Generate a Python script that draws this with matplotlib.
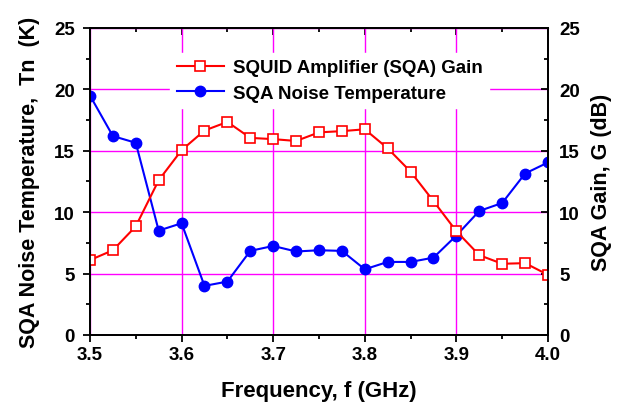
import matplotlib
matplotlib.use("Agg")
import matplotlib.pyplot as plt
from matplotlib.ticker import MultipleLocator

plt.rcParams["font.family"] = ["Liberation Sans", "DejaVu Sans"]
plt.rcParams["font.weight"] = "bold"

freq = [3.5, 3.525, 3.55, 3.575, 3.6, 3.625, 3.65, 3.675, 3.7, 3.725, 3.75,
        3.775, 3.8, 3.825, 3.85, 3.875, 3.9, 3.925, 3.95, 3.975, 4.0]
gain = [6.1, 6.9, 8.85, 12.6, 15.05, 16.65, 17.35, 16.05, 15.95, 15.8, 16.5,
        16.6, 16.75, 15.2, 13.3, 10.9, 8.45, 6.5, 5.8, 5.85, 4.9]
noise = [19.5, 16.2, 15.65, 8.5, 9.1, 4.0, 4.35, 6.85, 7.25, 6.8, 6.9,
         6.85, 5.35, 5.95, 5.95, 6.3, 8.1, 10.1, 10.75, 13.15, 14.05]

fig = plt.figure(figsize=(6.27, 4.10), dpi=100)
ax = fig.add_axes([0.1435, 0.1805, 0.7305, 0.7488])
ax2 = ax.twinx()

ax.set_xlim(3.5, 4.0)
ax.set_ylim(0, 25)
ax2.set_ylim(0, 25)

ax.grid(True, which="major", color="#ff00ff", linewidth=1)
ax.set_axisbelow(True)

l_noise, = ax.plot(freq, noise, color="#0000ff", linewidth=1.5, marker="o",
                   markersize=7.5, markerfacecolor="#0000ff",
                   markeredgecolor="#0000ff", label="SQA Noise Temperature")
l_gain, = ax2.plot(freq, gain, color="#ff0000", linewidth=1.5, marker="s",
                   markersize=7.5, markerfacecolor="white",
                   markeredgecolor="#ff0000", markeredgewidth=1.2,
                   label="SQUID Amplifier (SQA) Gain")

ax.xaxis.set_major_locator(MultipleLocator(0.1))
ax.xaxis.set_minor_locator(MultipleLocator(0.05))
ax.yaxis.set_major_locator(MultipleLocator(5))
ax.yaxis.set_minor_locator(MultipleLocator(2.5))
ax2.yaxis.set_major_locator(MultipleLocator(5))
ax2.yaxis.set_minor_locator(MultipleLocator(2.5))
ax.set_xticklabels([f"{t:.1f}" for t in ax.get_xticks()])

ax.tick_params(which="major", direction="out", length=5, width=1.3,
               labelsize=13.5, pad=3)
ax.tick_params(axis="y", which="major", pad=6)
ax.tick_params(which="minor", direction="out", length=3, width=1.3)
ax2.tick_params(which="major", direction="in", length=5, width=1.3,
                labelsize=13.5, pad=8)
ax2.tick_params(which="minor", direction="in", length=3, width=1.3)

top = ax.secondary_xaxis("top")
top.xaxis.set_major_locator(MultipleLocator(0.1))
top.xaxis.set_minor_locator(MultipleLocator(0.05))
top.tick_params(which="major", direction="in", length=5, width=1.3,
                labeltop=False)
top.tick_params(which="minor", direction="in", length=3, width=1.3)

for a in (ax, ax2):
    for s in a.spines.values():
        s.set_linewidth(1.3)

ax.set_xlabel("Frequency, f (GHz)", fontsize=16, fontweight="bold",
              labelpad=12)
ax.set_ylabel("SQA Noise Temperature,  Tn  (K)", fontsize=15.5,
              fontweight="bold", labelpad=10)
ax2.set_ylabel("SQA Gain, G (dB)", fontsize=15.5, fontweight="bold",
               labelpad=8)

leg = ax2.legend(handles=[l_gain, l_noise], loc="upper left",
                 bbox_to_anchor=(0.175, 0.92), frameon=True, fontsize=13.5,
                 handlelength=2.5, borderpad=0.35, labelspacing=0.45,
                 handletextpad=0.5, borderaxespad=0)
leg.get_frame().set_edgecolor("white")
leg.get_frame().set_facecolor("white")
leg.get_frame().set_alpha(1)
leg.get_frame().set_boxstyle("square", pad=0)

fig.savefig("out.png", dpi=100)
